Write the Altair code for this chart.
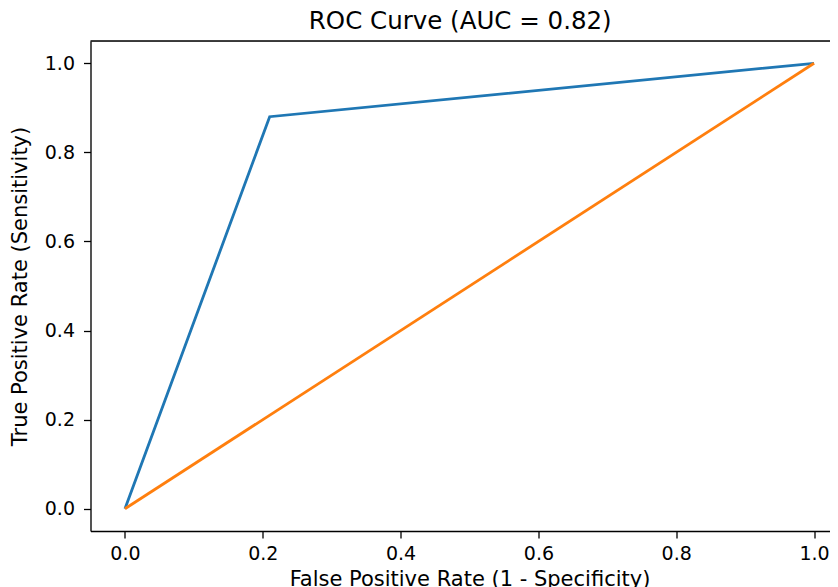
import altair as alt
import pandas as pd

# ROC curve points
roc_fpr = [0.0, 0.21, 1.0]
roc_tpr = [0.0, 0.88, 1.0]
# chance diagonal
diag_x = [0.0, 1.0]
diag_y = [0.0, 1.0]
tick_values = [0.0, 0.2, 0.4, 0.6, 0.8, 1.0]
title_text = "ROC Curve (AUC = 0.82)"
x_label = "False Positive Rate (1 - Specificity)"
y_label = "True Positive Rate (Sensitivity)"

roc_df = pd.DataFrame({"fpr": roc_fpr, "tpr": roc_tpr, "order": range(len(roc_fpr))})
diag_df = pd.DataFrame({"fpr": diag_x, "tpr": diag_y, "order": range(len(diag_x))})

FONT = "DejaVu Sans"
PAD_L = 82.5
W = 822 - PAD_L          # visible part of the plot (the reference is cut on the right)
FULL_W = 758             # full axes width, extending past the picture's edge
H = 490

x_scale = alt.Scale(domain=[-0.05, 1.05], nice=False, zero=False, range=[0, FULL_W])
y_scale = alt.Scale(domain=[-0.05, 1.05], nice=False, zero=False)

x_axis = alt.Axis(
    title=x_label, values=tick_values, format=".1f", grid=False,
    tickSize=7, tickWidth=1.3, tickColor="black",
    domainColor="black", domainWidth=1.3,
    labelFont=FONT, labelFontSize=19, labelColor="black", labelPadding=6,
    titleFont=FONT, titleFontSize=21, titleFontWeight="normal", titleColor="black",
    titleBaseline="alphabetic", titleY=54, titleX=FULL_W / 2, titleAnchor="middle",
)
y_axis = alt.Axis(
    title=y_label, values=tick_values, format=".1f", grid=False,
    tickSize=7, tickWidth=1.3, tickColor="black",
    domainColor="black", domainWidth=1.3,
    labelFont=FONT, labelFontSize=19, labelColor="black", labelPadding=9,
    titleFont=FONT, titleFontSize=21, titleFontWeight="normal", titleColor="black",
    titleAngle=270, titleBaseline="middle", titleX=-70, titleY=H / 2,
)

roc = alt.Chart(roc_df).mark_line(color="#1f77b4", strokeWidth=2.8).encode(
    x=alt.X("fpr:Q", scale=x_scale, axis=x_axis),
    y=alt.Y("tpr:Q", scale=y_scale, axis=y_axis),
    order="order:Q",
)
diag = alt.Chart(diag_df).mark_line(color="#ff7f0e", strokeWidth=2.8).encode(
    x=alt.X("fpr:Q", scale=x_scale),
    y=alt.Y("tpr:Q", scale=y_scale),
    order="order:Q",
)
# top spine of the axes frame
top_spine = alt.Chart(pd.DataFrame({"k": [0]})).mark_rule(color="black", strokeWidth=1.3).encode(
    x=alt.value(0), x2=alt.value(FULL_W), y=alt.value(0)
)

chart = (
    alt.layer(roc, diag, top_spine)
    .properties(
        width=W, height=H,
        title=alt.TitleParams(title_text, font=FONT, fontSize=24.5, fontWeight="normal",
                              color="black", baseline="alphabetic", offset=11, anchor="middle",
                              dy=24),
        autosize=alt.AutoSizeParams(type="none"),
        padding={"left": PAD_L, "top": 33, "right": 0, "bottom": 60},
    )
    .configure_view(stroke=None)
    .configure(background="white")
)

chart.save("out.html", embed_options={"renderer": "svg", "actions": False})
